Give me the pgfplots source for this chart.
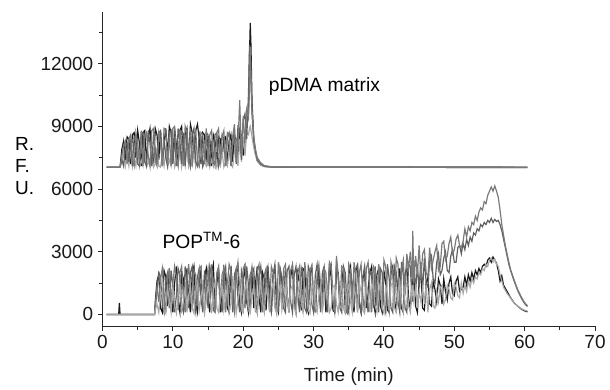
\documentclass[border=0pt]{standalone}
\usepackage{pgfplots}
\usepackage{pgfplotstable}
\usepackage{fontspec}
\setmainfont{Liberation Sans}
\pgfplotsset{compat=1.18}
\definecolor{cK}{HTML}{1A1A1A}
\definecolor{cD}{HTML}{606060}
\definecolor{cM}{HTML}{7A7A7A}
\definecolor{cL}{HTML}{A8A8A8}
\pgfplotstableread{
t k d l m
0.60 7050 7050 7050 7050
2.40 7050 7050 7050 7050
2.50 7050 7050 7050 7050
2.75 7900 7400 7300 7600
3.00 8300 7100 7800 8100
3.25 7400 8100 7100 8300
3.50 8500 8200 7600 7200
3.75 8400 7300 7100 8400
4.00 7200 8400 7900 8600
4.25 8600 7100 7050 7400
4.50 8700 8500 7500 7100
4.75 7500 8300 7100 8700
5.00 8800 7200 8100 8200
5.25 8200 7100 7050 7300
5.50 7100 8600 7400 8800
5.75 8700 8700 7100 7100
6.00 8800 7300 7800 8500
6.25 7300 7100 7050 8700
6.50 8500 8800 7300 7600
6.75 8900 8200 7100 7100
7.00 7700 7100 7900 8800
7.25 7100 8600 7050 8900
7.50 8900 7900 7200 7400
7.75 8600 7200 8000 7100
8.00 7400 8700 7100 8700
8.25 8800 8800 7050 8300
8.50 7200 7100 7600 7100
8.75 8200 8400 7100 8900
9.00 8900 7500 7800 8800
9.25 7600 7100 7050 7200
9.50 9000 8700 7400 8600
9.75 8700 8800 7100 7100
10.00 7300 7200 8000 8900
10.25 8900 8500 7050 9000
10.50 8100 7100 7300 7500
10.75 7100 8900 7100 7100
11.00 8800 8300 7900 8800
11.25 9000 7200 7050 8200
11.50 7400 8700 7600 7100
11.75 8600 7100 7100 9000
12.00 8900 8800 8100 8700
12.25 7200 7600 7050 7200
12.50 9100 7100 7300 8900
12.75 8700 8600 7100 7100
13.00 7500 8900 7800 8500
13.25 8800 7300 7050 8800
13.50 9100 7100 7400 7300
13.75 8400 8700 7100 7100
14.00 7200 8500 8000 8700
14.25 8700 7100 7050 8600
14.50 8600 7400 7300 7200
14.75 7300 8700 7100 8900
15.00 8500 8600 7700 7100
15.25 8400 7100 7050 8600
15.50 7100 8300 7400 8800
15.75 8600 7200 7100 7400
16.00 8300 8600 8000 7100
16.25 7200 8700 7050 8700
16.50 8500 7100 7300 8900
16.75 8400 7500 7100 7200
17.00 7500 8600 7800 8500
17.25 8400 8400 7050 8800
17.50 8500 7100 7300 7100
17.75 7200 8500 7100 8700
18.00 8300 8700 7900 8600
18.25 8600 7100 7200 7200
18.50 7300 8300 7050 8500
18.75 8500 8800 7800 9100
19.00 8400 7200 8300 7300
19.25 7300 9000 7100 8100
19.50 8700 8900 8400 10250
19.75 8600 7400 7300 7600
20.00 7600 9300 8500 9500
20.25 8800 9600 7600 8200
20.50 9000 8400 8700 9800
20.75 9800 10600 8600 9400
20.90 12500 12900 8900 10800
21.00 13950 12200 9000 12800
21.10 12900 11300 8800 11600
21.25 10200 9600 8500 9800
21.50 8400 8300 8000 8500
21.75 7700 7800 7600 7900
22.00 7350 7400 7350 7500
22.50 7150 7200 7150 7250
23.00 7080 7100 7080 7120
24.00 7050 7060 7050 7070
60.40 7030 7050 7030 7050
}\uptab
\pgfplotstableread{
t k d l m
0.60 0 0 0 0
2.30 0 0 0 0
2.40 550 0 0 0
2.50 0 0 0 0
7.40 0 0 0 0
7.50 600 300 200 400
7.75 1600 1200 500 1300
8.00 1900 2000 100 600
8.25 300 1800 900 1700
8.50 100 500 1100 2200
8.75 2100 100 200 800
9.00 1800 1700 50 100
9.25 400 2000 1200 1900
9.50 2200 300 700 2100
9.75 900 2100 100 300
10.00 100 1400 1300 1500
10.25 1500 100 400 2300
10.50 2300 900 50 1800
10.75 600 2200 1000 200
11.00 100 1900 1500 2000
11.25 2000 400 200 2300
11.50 1700 100 600 700
11.75 300 2300 1300 100
12.00 2200 1600 100 1600
12.25 800 300 900 2400
12.50 100 2000 1400 1100
12.75 1900 2300 300 200
13.00 2300 600 50 2100
13.25 500 100 1100 1900
13.50 100 1800 1500 400
13.75 1600 2200 200 2200
14.00 2100 800 800 2300
14.25 200 100 1300 600
14.50 1800 2100 100 100
14.75 2200 1500 600 1700
15.00 700 300 1400 2200
15.25 100 2300 900 800
15.50 2000 1900 50 2400
15.75 2400 200 1200 1300
16.00 400 100 1500 100
16.25 1500 1800 300 2000
16.50 2100 2200 100 2300
16.75 100 700 1000 500
17.00 900 100 1400 1900
17.25 2200 2000 200 2200
17.50 1800 2300 800 100
17.75 300 400 1300 1400
18.00 100 1600 100 2400
18.25 2300 2100 500 2100
18.50 1200 100 1500 600
18.75 200 1900 1100 100
19.00 2000 2200 50 2000
19.25 2300 800 700 2500
19.50 500 100 1400 1200
19.75 100 2100 300 100
20.00 1700 1700 100 2200
20.25 2200 300 1200 2400
20.50 600 2300 1500 800
20.75 100 1400 400 100
21.00 1900 100 100 1800
21.25 2100 2000 900 2300
21.50 300 2200 1300 1500
21.75 1500 600 200 100
22.00 2300 100 50 2100
22.25 800 1800 1100 2400
22.50 100 2300 1500 700
22.75 2000 1200 600 100
23.00 1700 100 100 1900
23.25 200 2000 1300 2200
23.50 2300 2300 800 1000
23.75 1100 500 100 200
24.00 100 100 1200 2300
24.25 1900 1900 1500 2000
24.50 2200 2400 300 600
24.75 400 900 50 100
25.00 100 100 1000 2500
25.25 2100 2200 1400 1700
25.50 1600 1800 200 300
25.75 300 300 700 2200
26.00 2200 100 1600 2400
26.25 900 2100 900 900
26.50 100 2300 100 100
26.75 1800 600 1200 2100
27.00 2300 100 1400 2400
27.25 600 1900 300 1300
27.50 100 2300 50 200
27.75 2000 1000 1000 2000
28.00 1500 100 1500 2300
28.25 200 2200 600 700
28.50 2200 1700 100 100
28.75 2100 300 1300 2500
29.00 400 100 1000 1600
29.25 100 2300 200 300
29.50 1900 2000 50 2200
29.75 2300 500 1200 2300
30.00 700 100 1500 800
30.25 100 1900 400 100
30.50 1600 2400 100 1900
30.75 2200 1300 900 2400
31.00 300 100 1400 1400
31.25 1200 2000 200 200
31.50 2000 2300 700 2200
31.75 100 700 1500 2000
32.00 900 100 1000 500
32.25 2300 2100 100 2500
32.50 1800 2400 300 2300
32.75 200 600 1300 700
33.00 100 100 1400 100
33.25 2100 2500 500 2800
33.50 2000 1800 100 1900
33.75 400 300 1000 400
34.00 1500 100 1500 2300
34.25 2200 2300 300 2200
34.50 300 2000 50 800
34.75 100 500 1100 100
35.00 1900 100 1400 2400
35.25 2300 2100 600 2100
35.50 800 1500 100 300
35.75 100 300 1300 2500
36.00 2100 2200 800 1800
36.25 2300 2400 100 100
36.50 500 600 1500 2000
36.75 100 100 1100 2400
37.00 1700 1800 200 900
37.25 2100 2300 50 100
37.50 300 800 1400 2200
37.75 1200 100 900 2500
38.00 2000 2100 100 1200
38.25 2300 1900 1200 100
38.50 600 300 1500 2300
38.75 100 2300 400 2100
39.00 1900 900 100 400
39.25 2200 100 1100 2400
39.50 400 2200 1500 1800
39.75 100 2000 300 200
40.00 2100 500 50 2600
40.25 1500 100 1300 2300
40.50 200 2400 1000 600
40.75 100 1700 200 100
41.00 2000 300 1400 2500
41.25 2300 100 1500 2000
41.50 700 2300 300 500
41.75 100 2000 100 2700
42.00 1600 600 1100 2400
42.25 2200 100 1500 300
42.50 300 2500 600 2100
42.75 100 1900 100 2600
43.00 1900 300 1300 900
43.25 2300 100 1500 2900
43.50 800 2400 400 2200
43.75 200 2300 100 3000
44.00 1700 600 1400 1600
44.10 1400 1000 1000 4000
44.25 2100 2600 600 1500
44.50 400 1100 1300 2800
44.75 100 2300 300 1900
45.00 1600 1300 1100 3300
45.25 1900 2500 600 1700
45.50 300 1200 1300 2900
45.75 200 2700 500 3100
46.00 1500 1500 1400 2000
46.25 1800 1300 100 1800
46.50 500 2600 1200 3200
46.75 400 2800 1500 2200
47.00 1600 1700 400 2600
47.25 1200 1500 300 3000
47.50 600 2500 1100 3300
47.75 1700 2900 600 2100
48.00 1400 1900 1300 2300
48.25 500 2100 1400 3400
48.50 1700 2700 500 3500
48.75 1100 3000 700 2600
49.00 700 2100 1400 2800
49.25 1500 2000 1200 3400
49.50 1800 2800 800 3700
49.75 1000 3100 700 2900
50.00 900 2500 1500 3100
50.25 1600 2500 1300 3600
50.50 1800 3200 900 3800
50.75 1100 3300 800 3300
51.00 1200 2900 1500 3200
51.25 1300 3400 1000 3500
51.50 1800 3100 1400 4100
51.75 1400 3600 1100 3700
52.00 1900 3300 1600 4200
52.25 1600 3700 1300 4000
52.50 2000 3500 1700 4400
52.75 1700 3900 1500 4300
53.00 2100 3800 1800 4700
53.25 1900 4100 1700 4500
53.50 2200 4000 2000 4900
53.75 2000 4300 1900 5100
54.00 2300 4200 2200 5000
54.25 2400 4400 2100 5400
54.50 2300 4300 2400 5300
54.75 2600 4500 2300 5700
55.00 2700 4400 2600 5900
55.25 2500 4600 2700 6100
55.50 2750 4400 2500 5900
55.75 2600 4550 2650 6150
56.00 2450 4450 2400 5900
56.25 2100 4500 2300 5600
56.50 1600 4300 1900 5000
56.75 1850 4000 1600 4300
57.00 1400 3600 1300 3800
57.25 1250 3200 1150 3300
57.50 1100 2800 1000 2900
57.75 950 2400 900 2500
58.00 800 2100 780 2150
58.50 550 1600 560 1650
59.00 400 1150 400 1200
59.50 260 800 280 850
60.00 170 520 200 560
60.40 120 380 160 420
}\lowtab
\begin{document}
\begin{tikzpicture}
\begin{axis}[
  at={(0,0)}, anchor=south west,
  width=371.25pt, height=237pt, scale only axis,
  xmin=0, xmax=70, ymin=-571, ymax=14476,
  axis lines=left,
  axis line style={-, color=black!85, line width=0.7pt},
  xtick={0,10,...,70},
  minor xtick={5,15,...,65},
  ytick={0,3000,6000,9000,12000},
  minor ytick={1500,4500,7500,10500,13500},
  scaled y ticks=false,
  tick align=outside,
  major tick length=3.4pt,
  minor tick length=2.4pt,
  tick style={color=black!85, line width=0.7pt},
  /pgf/number format/assume math mode=true,
  /pgf/number format/1000 sep={},
  tick label style={font=\fontsize{14.3}{16}\selectfont, color=black!90},
  xlabel={Time (min)},
  xlabel style={font=\fontsize{14.3}{16}\selectfont, color=black!90, yshift=-7pt},
  clip=false,
]
\addplot[cK, line width=0.9pt] table[x=t,y=k]{\uptab};
\addplot[cL, line width=0.9pt] table[x=t,y=l]{\uptab};
\addplot[cD, line width=0.9pt] table[x=t,y=d]{\uptab};
\addplot[cM, line width=0.9pt] table[x=t,y=m]{\uptab};
\addplot[cK, line width=0.9pt] table[x=t,y=k]{\lowtab};
\addplot[cD, line width=0.9pt] table[x=t,y=d]{\lowtab};
\addplot[cM, line width=0.9pt] table[x=t,y=m]{\lowtab};
\addplot[cL, line width=0.9pt] table[x=t,y=l]{\lowtab};
\node[anchor=base west, font=\fontsize{14.5}{16}\selectfont, inner sep=0pt] at (axis cs:23.6,10667) {pDMA matrix};
\node[anchor=base west, font=\fontsize{14.5}{16}\selectfont, inner sep=0pt] at (axis cs:8.5,3140) {POP\textsuperscript{TM}-6};
\node[anchor=west, align=left, font=\fontsize{14.3}{16.5}\selectfont, inner sep=0pt] at (axis description cs:-0.178,0.509) {R.\\F.\\U.};
\end{axis}
\path (-77.25pt,-45pt) rectangle (380.25pt,246pt);
\end{tikzpicture}
\end{document}
